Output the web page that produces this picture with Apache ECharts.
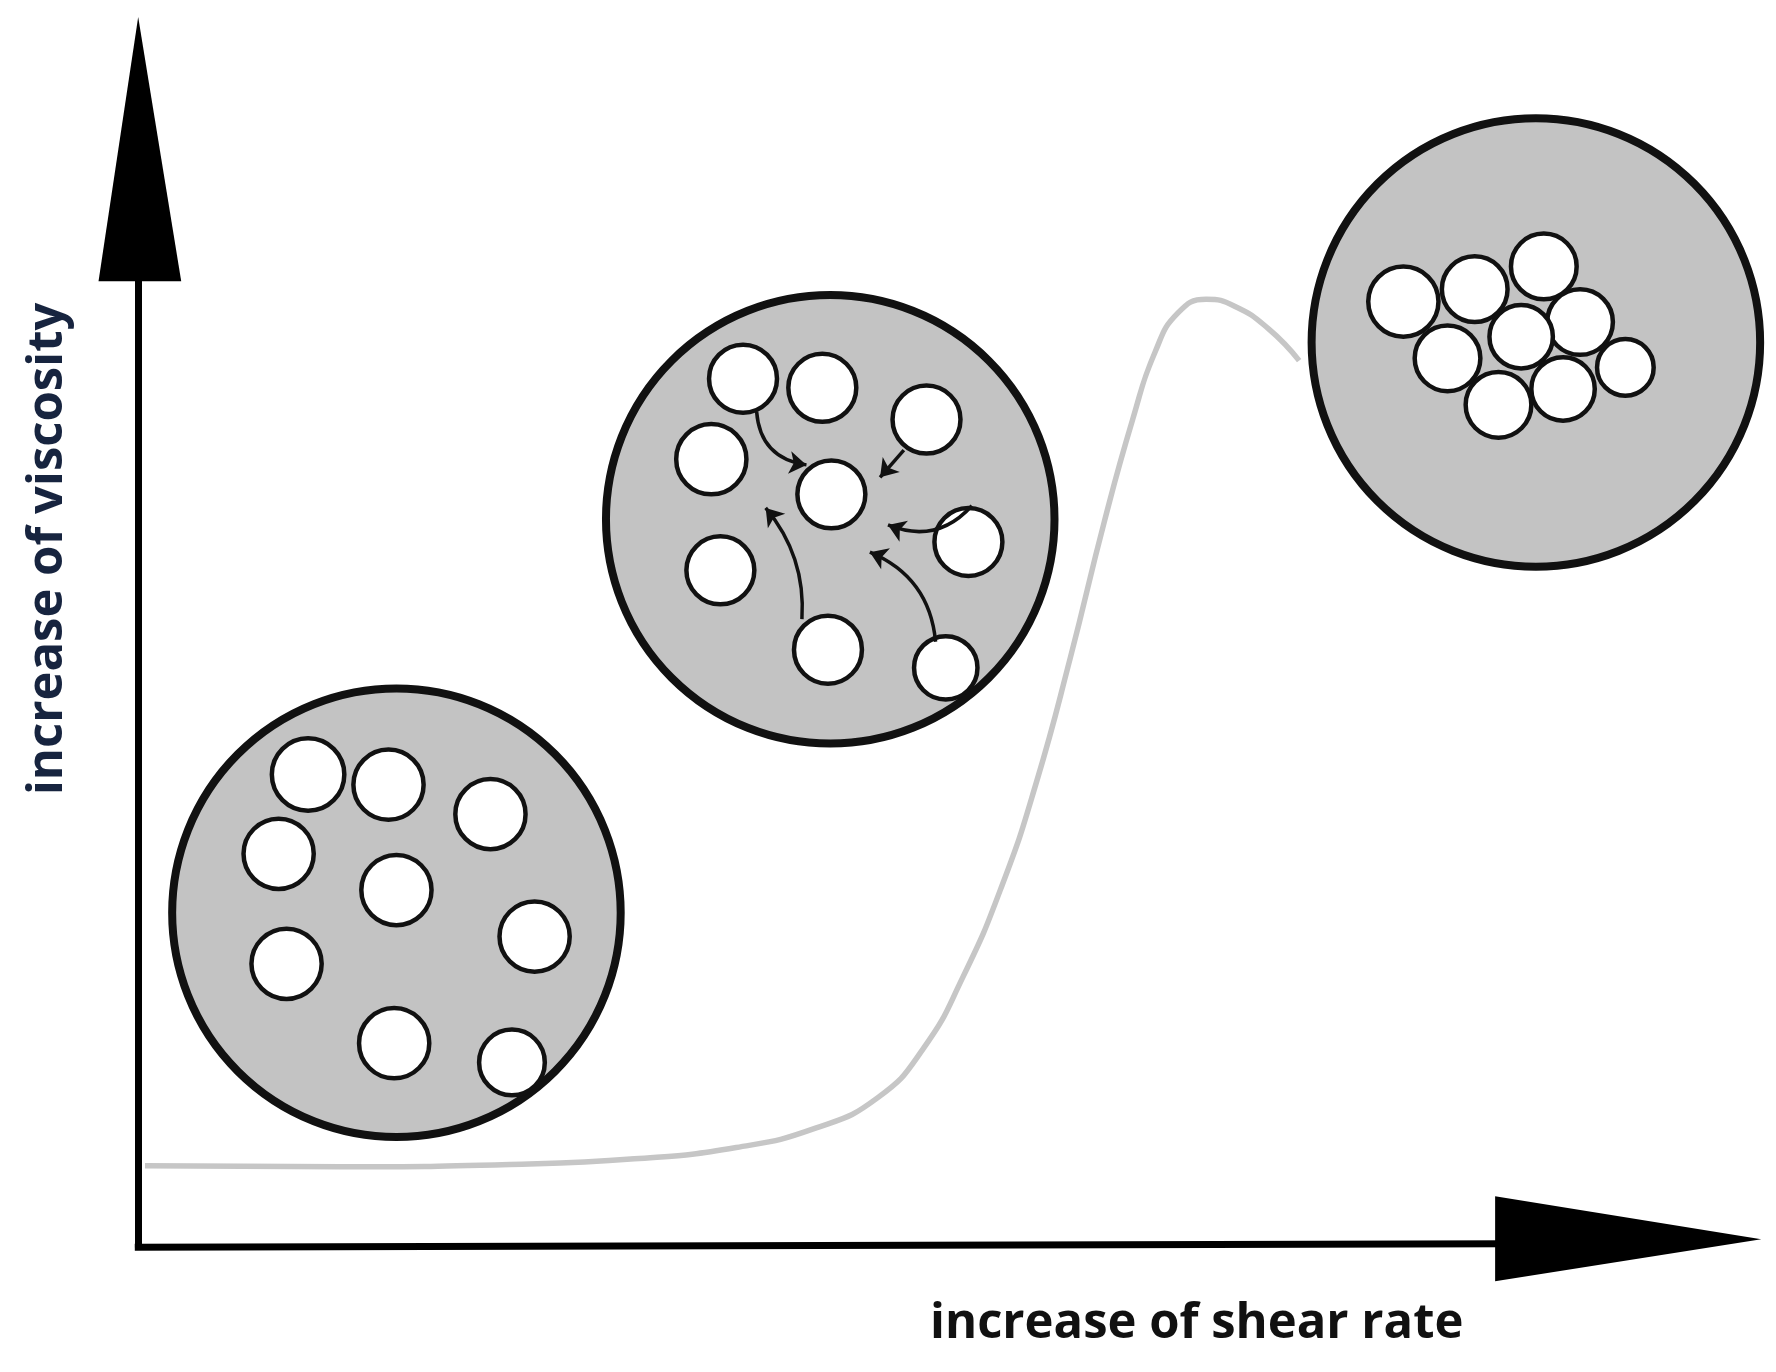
<!DOCTYPE html>
<html>
<head>
<meta charset="utf-8">
<script src="https://cdn.jsdelivr.net/npm/echarts@6/dist/echarts.min.js"></script>
<style>
  html, body { margin: 0; padding: 0; background: #fff; }
  #chart { width: 1776px; height: 1372px; }
</style>
</head>
<body>
<div id="chart"></div>
<script>
// picture units: x 0..1568, y 0..1210 (y downwards)
var S = 1776 / 1568;

// big grey discs [x, y, radius]
var bigDiscs = [[350, 805, 198], [733, 458, 198], [1356, 302, 198]];

// particles [x, y, radius]
var particles = [
  // low shear: dispersed
  [272, 683, 32], [343, 692, 31], [433, 718, 31], [246, 753, 31], [350, 785, 31],
  [472, 826, 31], [253, 850, 31], [348, 920, 31], [452, 937, 29],
  // medium: moving together
  [656, 334, 30], [726, 342, 30], [818, 370, 30], [628, 405, 31], [734, 436, 30],
  [855, 478, 30], [636, 503, 30], [731, 573, 30], [835, 589, 28],
  // high: clustered
  [1239, 266, 31], [1302, 255, 29], [1363, 235, 29], [1395, 284, 29], [1343, 297, 28],
  [1278, 316, 29], [1435, 324, 25], [1380, 343, 28], [1323, 357, 29]
];

// viscosity curve
var curve = [
  [128, 1028], [300, 1029], [450, 1027], [560, 1022], [650, 1012], [720, 995],
  [775, 968], [815, 925], [850, 862], [885, 780], [915, 690], [945, 580],
  [975, 460], [1000, 370], [1020, 310], [1040, 276], [1065, 264], [1090, 270],
  [1120, 290], [1147, 318]
];

// small arrows inside the middle disc [from, to, curveness]
var arrows = [
  [[668, 363], [712, 410], -0.4],
  [[798, 397], [777, 421], 0],
  [[858, 446], [784, 463], 0.35],
  [[708, 546], [676, 448], -0.2],
  [[826, 566], [768, 487], -0.3]
];

// axes
var axisLines = [[[122, 1100], [122, 230]], [[119, 1100], [1330, 1097]]];
var axisHeads = [
  [[122, 15], [87, 248], [160, 248]],
  [[1555, 1093], [1320, 1055], [1320, 1130]]
];

var chart = echarts.init(document.getElementById('chart'));

var option = {
  backgroundColor: '#fff',
  animation: false,
  grid: { left: 0, right: 0, top: 0, bottom: 0 },
  xAxis: { type: 'value', min: 0, max: 1568, show: false },
  yAxis: { type: 'value', min: 0, max: 1210, inverse: true, show: false },
  graphic: [
    {
      type: 'text',
      rotation: Math.PI / 2,
      originX: 0, originY: 0,
      x: 24, y: 702 * S,
      style: {
        text: 'increase of viscosity',
        fill: '#17243f',
        font: 'bold 49px "Open Sans"'
      }
    },
    {
      type: 'text', left: 930, top: 1300,
      style: {
        text: 'increase of shear rate',
        fill: '#111',
        font: 'bold 49px "Open Sans"'
      }
    }
  ],
  series: [
    {
      type: 'line', data: curve, smooth: 0.5, symbol: 'none', z: 1,
      lineStyle: { color: '#c6c6c6', width: 5.5 }
    },
    {
      type: 'scatter', z: 2, data: bigDiscs,
      symbolSize: function (v) { return v[2] * 2 * S; },
      itemStyle: { color: '#c3c3c3', borderColor: '#111', borderWidth: 8, opacity: 1 }
    },
    {
      type: 'scatter', z: 3, data: particles,
      symbolSize: function (v) { return v[2] * 2 * S; },
      itemStyle: { color: '#fff', borderColor: '#111', borderWidth: 4.5, opacity: 1 }
    },
    {
      type: 'lines', coordinateSystem: 'cartesian2d', z: 4,
      symbol: ['none', 'arrow'], symbolSize: 17,
      data: arrows.map(function (a) {
        return { coords: [a[0], a[1]], lineStyle: { curveness: a[2] } };
      }),
      lineStyle: { color: '#111', width: 3.5, opacity: 1 }
    },
    {
      type: 'lines', coordinateSystem: 'cartesian2d', z: 5,
      data: axisLines.map(function (l) { return { coords: l }; }),
      lineStyle: { color: '#000', width: 7, opacity: 1 }
    },
    {
      type: 'custom', z: 6, data: axisHeads.map(function (h, i) { return [i]; }),
      renderItem: function (params, api) {
        var h = axisHeads[params.dataIndex];
        return {
          type: 'polygon',
          shape: { points: h.map(function (p) { return api.coord(p); }) },
          style: { fill: '#000' }
        };
      }
    }
  ]
};

chart.setOption(option);
</script>
</body>
</html>
